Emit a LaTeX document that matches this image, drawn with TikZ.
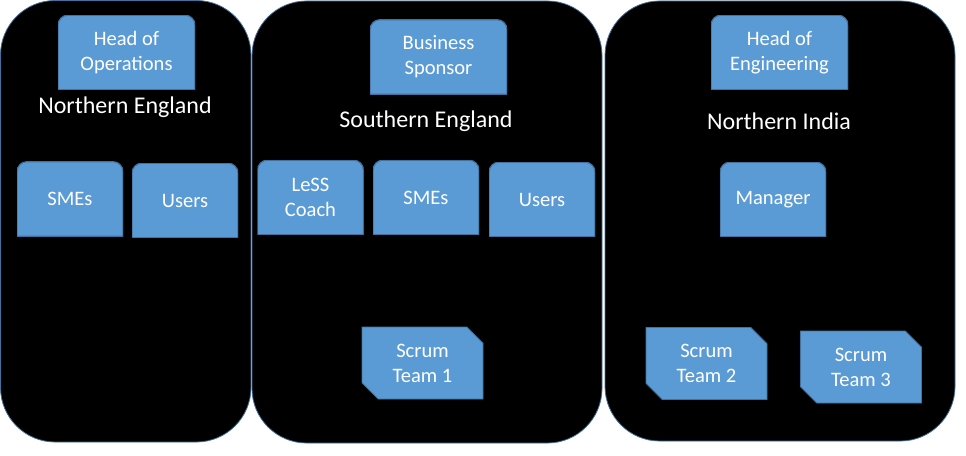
\documentclass[tikz,border=0pt]{standalone}
\usepackage{fontspec}
\setmainfont{Carlito}
\usetikzlibrary{shapes.misc}

\definecolor{boxfill}{RGB}{91,155,213}
\definecolor{boxline}{RGB}{65,113,156}

\tikzset{every picture/.style={line width=0.75pt}}
\tikzset{
  region/.style={draw=boxline, fill=black, line width=0.6pt, rounded corners=41pt},
  regiontitle/.style={text=white, inner sep=0.75pt, font=\fontsize{18}{21}\selectfont},
  boxtext/.style={text=white, inner sep=0pt, align=center, font=\fontsize{15.4}{18.75}\selectfont},
  tabbox/.style={boxtext, minimum width=79.5pt, minimum height=56pt,
    path picture={\draw[draw=boxline, fill=boxfill, line width=0.9pt]
      (path picture bounding box.south west) [rounded corners=7.5pt]
      -- (path picture bounding box.north west)
      -- (path picture bounding box.north east) [sharp corners]
      -- (path picture bounding box.south east) -- cycle;}},
  headbox/.style={tabbox, minimum width=102.75pt},
  teambox/.style={boxtext, chamfered rectangle, chamfered rectangle corners={north east,south west},
    chamfered rectangle xsep=9pt, minimum width=90.75pt, minimum height=54pt,
    draw=boxline, fill=boxfill, line width=0.6pt}
}

\begin{document}
\begin{tikzpicture}[x=0.75pt,y=0.75pt,yscale=-1,xscale=1]
\useasboundingbox (0,0) rectangle (966,456);

%Rounded Rect: regions
\draw [region] (0.5,0.5) rectangle (251,442) ;
\draw [region] (252,1) rectangle (602,443) ;
\draw [region] (605,1) rectangle (955,441) ;

% Northern England
\node [headbox] (headops) at (126.5,52.5) {Head of\\Operations};
\node [regiontitle] (northeng) at (125,107.5) {Northern England};
\node [tabbox] (smesnorth) at (70,199) {SMEs};
\node [tabbox] (usersnorth) at (185,200.5) {Users};

% Southern England
\node [headbox] (sponsor) at (438.5,57) {Business\\Sponsor};
\node [regiontitle] (southeng) at (426,121.5) {Southern England};
\node [tabbox] (coach) at (310.5,197.5) {LeSS\\Coach};
\node [tabbox] (smessouth) at (426,197.5) {SMEs};
\node [tabbox] (userssouth) at (542,199.5) {Users};
\node [teambox] (teamone) at (422.5,363) {Scrum\\Team 1};

% Northern India
\node [headbox] (headeng) at (779.5,52.5) {Head of\\Engineering};
\node [regiontitle] (northind) at (779,121.5) {Northern India};
\node [tabbox] (manager) at (773,199.5) {Manager};
\node [teambox] (teamtwo) at (706.5,363.5) {Scrum\\Team 2};
\node [teambox] (teamthree) at (861,367) {Scrum\\Team 3};

\end{tikzpicture}
\end{document}
